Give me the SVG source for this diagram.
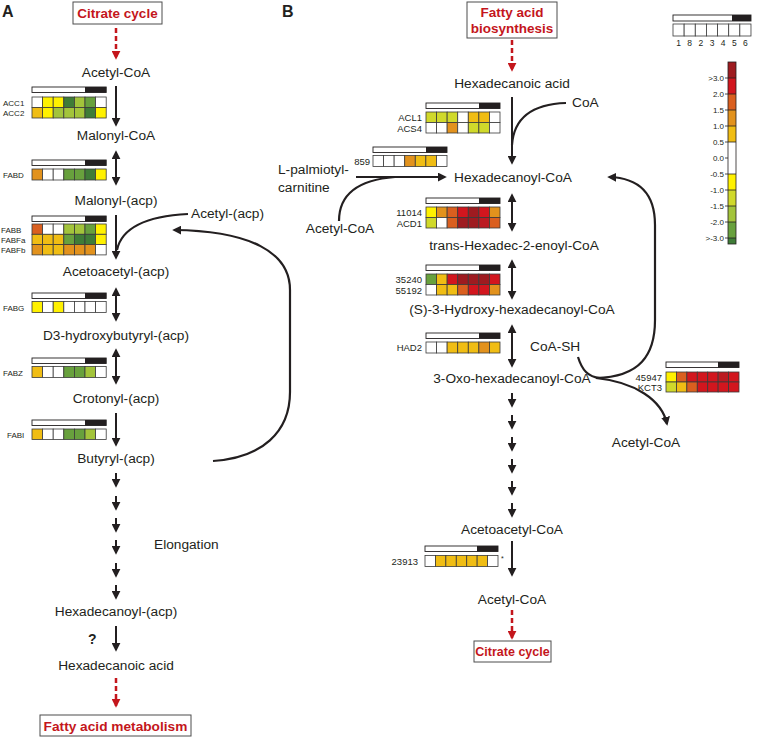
<svg xmlns="http://www.w3.org/2000/svg" width="757" height="737" viewBox="0 0 757 737">
<style>
text{font-family:"Liberation Sans",Arial,sans-serif;fill:#231f20}
.t{font-size:13.7px;text-anchor:middle}
.la{font-size:8px}
.lb{font-size:9.5px;text-anchor:end}
.pl{font-size:16px;font-weight:bold}
.red{font-size:13.5px;font-weight:bold;fill:#c4161c;text-anchor:middle}
.box{fill:#fff;stroke:#4d4d4d;stroke-width:1}
.ar{stroke:#231f20;stroke-width:2;fill:none;marker-end:url(#ah)}
.da{stroke:#231f20;stroke-width:2;fill:none;marker-start:url(#ah);marker-end:url(#ah)}
.cv{stroke:#231f20;stroke-width:2.2;fill:none}
.rd{stroke:#c4161c;stroke-width:2.5;stroke-dasharray:5 3;fill:none;marker-end:url(#rh)}
.bar{fill:#fff;stroke:#231f20;stroke-width:0.9}
.bk{fill:#231f20}
rect.c{stroke:#3a3a3a;stroke-width:0.8}
.w{fill:#fff}.dr{fill:#9e1b20}.r{fill:#d2161e}.r2{fill:#bb1a21}.or{fill:#da5f1f}.o{fill:#e2921d}.gd{fill:#f0bd14}.y{fill:#fff100}.yg{fill:#d0d92b}.lgn{fill:#a3c43b}.g{fill:#68a13d}.dg{fill:#3f7c37}
.n{font-size:8.5px;text-anchor:middle}
.s{font-size:8px;text-anchor:end}
</style>
<defs>
<marker id="ah" viewBox="0 0 10 10" refX="8" refY="5" markerWidth="9" markerHeight="9" markerUnits="userSpaceOnUse" orient="auto-start-reverse"><path d="M0,0 L10,5 L0,10 z" fill="#231f20"/></marker>
<marker id="rh" viewBox="0 0 10 10" refX="8" refY="5" markerWidth="9" markerHeight="9" markerUnits="userSpaceOnUse" orient="auto"><path d="M0,0 L10,5 L0,10 z" fill="#c4161c"/></marker>
</defs>

<!-- panel labels -->
<text class="pl" x="2" y="17">A</text>
<text class="pl" x="282" y="17">B</text>

<!-- connectors -->
<g id="connectors">
<!-- panel A -->
<path class="rd" d="M116 28 L116 58"/>
<path class="ar" d="M116 86 L116 125"/>
<path class="da" d="M116 152 L116 184"/>
<path class="ar" d="M116 215 L116 258"/>
<path class="cv" d="M188 214 C150 216 122 226 117 250"/>
<path class="da" d="M116 289 L116 320"/>
<path class="da" d="M116 350 L116 383"/>
<path class="ar" d="M116 413 L116 445"/>
<path class="cv" d="M213 461 C262 458 290 432 290 392 L290 290 C290 252 250 231 174 230" marker-end="url(#ah)"/>
<path class="ar" d="M116 473 L116 486"/>
<path class="ar" d="M116 496 L116 509"/>
<path class="ar" d="M116 518 L116 531"/>
<path class="ar" d="M116 540 L116 553"/>
<path class="ar" d="M116 563 L116 576"/>
<path class="ar" d="M116 585 L116 598"/>
<path class="ar" d="M116 626 L116 650"/>
<path class="rd" d="M116 678 L116 706"/>
<!-- panel B -->
<path class="rd" d="M512 40 L512 70"/>
<path class="ar" d="M512 97 L512 163"/>
<path class="cv" d="M566 103 C535 104 514 116 512 145"/>
<path class="ar" d="M356 177 L445 177"/>
<path class="cv" d="M339 221 C339 196 356 180 395 177"/>
<path class="da" d="M512 195 L512 230"/>
<path class="da" d="M512 261 L512 298"/>
<path class="da" d="M512 326 L512 366"/>
<path class="cv" d="M596 378 C640 377 655 355 655 320 L655 225 C655 195 640 178 609 177" marker-end="url(#ah)"/>
<path class="cv" d="M596 378 C635 382 662 400 667 424" marker-end="url(#ah)"/>
<path class="cv" d="M578 357 C582 370 588 377 600 378"/>
<path class="ar" d="M512 393 L512 406"/>
<path class="ar" d="M512 415 L512 428"/>
<path class="ar" d="M512 437 L512 450"/>
<path class="ar" d="M512 459 L512 472"/>
<path class="ar" d="M512 481 L512 494"/>
<path class="ar" d="M512 503 L512 516"/>
<path class="ar" d="M512 541 L512 575"/>
<path class="rd" d="M512 610 L512 638"/>
</g>

<!-- Panel A nodes -->
<g id="citrate-a"><rect class="box" x="73" y="2" width="89" height="22"/><text class="red" x="117.5" y="18">Citrate cycle</text></g>
<g id="acetylcoa-a"><text class="t" x="116" y="77">Acetyl-CoA</text></g>
<g id="malonylcoa"><text class="t" x="116" y="140">Malonyl-CoA</text></g>
<g id="malonylacp"><text class="t" x="116" y="205">Malonyl-(acp)</text></g>
<g id="acetylacp"><text class="t" x="191" y="218" style="text-anchor:start">Acetyl-(acp)</text></g>
<g id="acetoacetylacp"><text class="t" x="116" y="276">Acetoacetyl-(acp)</text></g>
<g id="d3hb"><text class="t" x="116" y="340">D3-hydroxybutyryl-(acp)</text></g>
<g id="crotonyl"><text class="t" x="116" y="403">Crotonyl-(acp)</text></g>
<g id="butyryl"><text class="t" x="116" y="463">Butyryl-(acp)</text></g>
<g id="elongation"><text class="t" x="154" y="549" style="text-anchor:start">Elongation</text></g>
<g id="hexacp"><text class="t" x="116" y="616">Hexadecanoyl-(acp)</text></g>
<g id="q"><text x="88" y="644" style="font-size:14px;font-weight:bold">?</text></g>
<g id="hexacid-a"><text class="t" x="116" y="670">Hexadecanoic acid</text></g>
<g id="fam"><rect class="box" x="40" y="715" width="151" height="21"/><text class="red" x="115.5" y="731" style="font-size:13.7px">Fatty acid metabolism</text></g>

<!-- Heatmaps A -->
<g id="hm-acc" transform="translate(32,87)">
<rect class="bar" x="0" y="0" width="74.2" height="5.5"/><rect class="bk" x="53" y="0" width="21.2" height="5.5"/>
<rect class="c w" x="0" y="10" width="10.6" height="10.5"/><rect class="c y" x="10.6" y="10" width="10.6" height="10.5"/><rect class="c y" x="21.2" y="10" width="10.6" height="10.5"/><rect class="c dg" x="31.8" y="10" width="10.6" height="10.5"/><rect class="c lgn" x="42.4" y="10" width="10.6" height="10.5"/><rect class="c g" x="53" y="10" width="10.6" height="10.5"/><rect class="c w" x="63.6" y="10" width="10.6" height="10.5"/>
<rect class="c gd" x="0" y="20.5" width="10.6" height="10.5"/><rect class="c y" x="10.6" y="20.5" width="10.6" height="10.5"/><rect class="c lgn" x="21.2" y="20.5" width="10.6" height="10.5"/><rect class="c lgn" x="31.8" y="20.5" width="10.6" height="10.5"/><rect class="c lgn" x="42.4" y="20.5" width="10.6" height="10.5"/><rect class="c dg" x="53" y="20.5" width="10.6" height="10.5"/><rect class="c y" x="63.6" y="20.5" width="10.6" height="10.5"/>
<text class="la" x="-29" y="18.5">ACC1</text><text class="la" x="-29" y="29">ACC2</text>
</g>
<g id="hm-fabd" transform="translate(32,160)">
<rect class="bar" x="0" y="0" width="74.2" height="5.5"/><rect class="bk" x="53" y="0" width="21.2" height="5.5"/>
<rect class="c o" x="0" y="9" width="10.6" height="11"/><rect class="c w" x="10.6" y="9" width="10.6" height="11"/><rect class="c w" x="21.2" y="9" width="10.6" height="11"/><rect class="c g" x="31.8" y="9" width="10.6" height="11"/><rect class="c g" x="42.4" y="9" width="10.6" height="11"/><rect class="c dg" x="53" y="9" width="10.6" height="11"/><rect class="c y" x="63.6" y="9" width="10.6" height="11"/>
<text class="la" x="-29" y="18">FABD</text>
</g>
<g id="hm-fabb" transform="translate(32,216)">
<rect class="bar" x="0" y="0" width="74.2" height="5.5"/><rect class="bk" x="53" y="0" width="21.2" height="5.5"/>
<rect class="c or" x="0" y="8" width="10.6" height="10.3"/><rect class="c w" x="10.6" y="8" width="10.6" height="10.3"/><rect class="c w" x="21.2" y="8" width="10.6" height="10.3"/><rect class="c lgn" x="31.8" y="8" width="10.6" height="10.3"/><rect class="c lgn" x="42.4" y="8" width="10.6" height="10.3"/><rect class="c g" x="53" y="8" width="10.6" height="10.3"/><rect class="c y" x="63.6" y="8" width="10.6" height="10.3"/>
<rect class="c gd" x="0" y="18.3" width="10.6" height="10.3"/><rect class="c gd" x="10.6" y="18.3" width="10.6" height="10.3"/><rect class="c gd" x="21.2" y="18.3" width="10.6" height="10.3"/><rect class="c g" x="31.8" y="18.3" width="10.6" height="10.3"/><rect class="c dg" x="42.4" y="18.3" width="10.6" height="10.3"/><rect class="c dg" x="53" y="18.3" width="10.6" height="10.3"/><rect class="c y" x="63.6" y="18.3" width="10.6" height="10.3"/>
<rect class="c o" x="0" y="28.6" width="10.6" height="10.3"/><rect class="c gd" x="10.6" y="28.6" width="10.6" height="10.3"/><rect class="c gd" x="21.2" y="28.6" width="10.6" height="10.3"/><rect class="c o" x="31.8" y="28.6" width="10.6" height="10.3"/><rect class="c o" x="42.4" y="28.6" width="10.6" height="10.3"/><rect class="c o" x="53" y="28.6" width="10.6" height="10.3"/><rect class="c w" x="63.6" y="28.6" width="10.6" height="10.3"/>
<text class="la" x="-31" y="16.5">FABB</text><text class="la" x="-31" y="27">FABFa</text><text class="la" x="-31" y="37">FABFb</text>
</g>
<g id="hm-fabg" transform="translate(32,293)">
<rect class="bar" x="0" y="0" width="74.2" height="5.5"/><rect class="bk" x="53" y="0" width="21.2" height="5.5"/>
<rect class="c y" x="0" y="8.5" width="10.6" height="11"/><rect class="c w" x="10.6" y="8.5" width="10.6" height="11"/><rect class="c y" x="21.2" y="8.5" width="10.6" height="11"/><rect class="c w" x="31.8" y="8.5" width="10.6" height="11"/><rect class="c w" x="42.4" y="8.5" width="10.6" height="11"/><rect class="c w" x="53" y="8.5" width="10.6" height="11"/><rect class="c w" x="63.6" y="8.5" width="10.6" height="11"/>
<text class="la" x="-29" y="17.5">FABG</text>
</g>
<g id="hm-fabz" transform="translate(32,358)">
<rect class="bar" x="0" y="0" width="74.2" height="5.5"/><rect class="bk" x="53" y="0" width="21.2" height="5.5"/>
<rect class="c gd" x="0" y="8.5" width="10.6" height="11"/><rect class="c w" x="10.6" y="8.5" width="10.6" height="11"/><rect class="c w" x="21.2" y="8.5" width="10.6" height="11"/><rect class="c g" x="31.8" y="8.5" width="10.6" height="11"/><rect class="c g" x="42.4" y="8.5" width="10.6" height="11"/><rect class="c lgn" x="53" y="8.5" width="10.6" height="11"/><rect class="c w" x="63.6" y="8.5" width="10.6" height="11"/>
<text class="la" x="-29" y="17.5">FABZ</text>
</g>
<g id="hm-fabi" transform="translate(32,420)">
<rect class="bar" x="0" y="0" width="74.2" height="5.5"/><rect class="bk" x="53" y="0" width="21.2" height="5.5"/>
<rect class="c gd" x="0" y="9" width="10.6" height="10.5"/><rect class="c w" x="10.6" y="9" width="10.6" height="10.5"/><rect class="c w" x="21.2" y="9" width="10.6" height="10.5"/><rect class="c g" x="31.8" y="9" width="10.6" height="10.5"/><rect class="c g" x="42.4" y="9" width="10.6" height="10.5"/><rect class="c lgn" x="53" y="9" width="10.6" height="10.5"/><rect class="c w" x="63.6" y="9" width="10.6" height="10.5"/>
<text class="la" x="-25" y="17.5">FABI</text>
</g>

<!-- Panel B nodes -->
<g id="fab"><rect class="box" x="467" y="2" width="90" height="36"/><text class="red" x="512" y="17">Fatty acid</text><text class="red" x="512" y="33">biosynthesis</text></g>
<g id="hexacid-b"><text class="t" x="512" y="88">Hexadecanoic acid</text></g>
<g id="coa"><text class="t" x="572" y="107" style="text-anchor:start">CoA</text></g>
<g id="palm"><text class="t" x="278" y="174" style="text-anchor:start">L-palmiotyl-</text><text class="t" x="278" y="192" style="text-anchor:start">carnitine</text></g>
<g id="acetylcoa-l"><text class="t" x="340" y="233">Acetyl-CoA</text></g>
<g id="hexcoa"><text class="t" x="454" y="182" style="text-anchor:start">Hexadecanoyl-CoA</text></g>
<g id="trans"><text class="t" x="514" y="250">trans-Hexadec-2-enoyl-CoA</text></g>
<g id="s3h"><text class="t" x="512" y="314">(S)-3-Hydroxy-hexadecanoyl-CoA</text></g>
<g id="coash"><text class="t" x="530" y="351" style="text-anchor:start">CoA-SH</text></g>
<g id="oxo"><text class="t" x="512" y="383">3-Oxo-hexadecanoyl-CoA</text></g>
<g id="acetylcoa-r"><text class="t" x="646" y="447">Acetyl-CoA</text></g>
<g id="acacoa"><text class="t" x="512" y="534">Acetoacetyl-CoA</text></g>
<g id="acetylcoa-b"><text class="t" x="512" y="604">Acetyl-CoA</text></g>
<g id="citrate-b"><rect class="box" x="474" y="641" width="77" height="21"/><text class="red" x="512.5" y="656" style="font-size:12.5px">Citrate cycle</text></g>

<!-- Heatmaps B -->
<g id="hm-acl" transform="translate(426,103)">
<rect class="bar" x="0" y="0" width="74" height="5.5"/><rect class="bk" x="53" y="0" width="21" height="5.5"/>
<rect class="c yg" x="0" y="9" width="10.57" height="10.5"/><rect class="c yg" x="10.57" y="9" width="10.57" height="10.5"/><rect class="c yg" x="21.14" y="9" width="10.57" height="10.5"/><rect class="c w" x="31.71" y="9" width="10.57" height="10.5"/><rect class="c gd" x="42.29" y="9" width="10.57" height="10.5"/><rect class="c gd" x="52.86" y="9" width="10.57" height="10.5"/><rect class="c w" x="63.43" y="9" width="10.57" height="10.5"/>
<rect class="c w" x="0" y="19.5" width="10.57" height="10.5"/><rect class="c w" x="10.57" y="19.5" width="10.57" height="10.5"/><rect class="c o" x="21.14" y="19.5" width="10.57" height="10.5"/><rect class="c w" x="31.71" y="19.5" width="10.57" height="10.5"/><rect class="c yg" x="42.29" y="19.5" width="10.57" height="10.5"/><rect class="c yg" x="52.86" y="19.5" width="10.57" height="10.5"/><rect class="c w" x="63.43" y="19.5" width="10.57" height="10.5"/>
<text class="lb" x="-4" y="18">ACL1</text><text class="lb" x="-4" y="28.5">ACS4</text>
</g>
<g id="hm-859" transform="translate(373,147)">
<rect class="bar" x="0" y="0" width="74" height="5.5"/><rect class="bk" x="53" y="0" width="21" height="5.5"/>
<rect class="c w" x="0" y="8.5" width="10.57" height="11"/><rect class="c w" x="10.57" y="8.5" width="10.57" height="11"/><rect class="c w" x="21.14" y="8.5" width="10.57" height="11"/><rect class="c o" x="31.71" y="8.5" width="10.57" height="11"/><rect class="c gd" x="42.29" y="8.5" width="10.57" height="11"/><rect class="c gd" x="52.86" y="8.5" width="10.57" height="11"/><rect class="c w" x="63.43" y="8.5" width="10.57" height="11"/>
<text class="lb" x="-3" y="17.5">859</text>
</g>
<g id="hm-acd" transform="translate(426,198)">
<rect class="bar" x="0" y="0" width="74" height="5.5"/><rect class="bk" x="53" y="0" width="21" height="5.5"/>
<rect class="c y" x="0" y="9" width="10.57" height="10.5"/><rect class="c o" x="10.57" y="9" width="10.57" height="10.5"/><rect class="c or" x="21.14" y="9" width="10.57" height="10.5"/><rect class="c r" x="31.71" y="9" width="10.57" height="10.5"/><rect class="c dr" x="42.29" y="9" width="10.57" height="10.5"/><rect class="c r" x="52.86" y="9" width="10.57" height="10.5"/><rect class="c o" x="63.43" y="9" width="10.57" height="10.5"/>
<rect class="c yg" x="0" y="19.5" width="10.57" height="10.5"/><rect class="c w" x="10.57" y="19.5" width="10.57" height="10.5"/><rect class="c or" x="21.14" y="19.5" width="10.57" height="10.5"/><rect class="c dr" x="31.71" y="19.5" width="10.57" height="10.5"/><rect class="c dr" x="42.29" y="19.5" width="10.57" height="10.5"/><rect class="c r2" x="52.86" y="19.5" width="10.57" height="10.5"/><rect class="c or" x="63.43" y="19.5" width="10.57" height="10.5"/>
<text class="lb" x="-4" y="18">11014</text><text class="lb" x="-4" y="28.5">ACD1</text>
</g>
<g id="hm-35240" transform="translate(426,265)">
<rect class="bar" x="0" y="0" width="74" height="5.5"/><rect class="bk" x="53" y="0" width="21" height="5.5"/>
<rect class="c g" x="0" y="9" width="10.57" height="10.5"/><rect class="c gd" x="10.57" y="9" width="10.57" height="10.5"/><rect class="c r" x="21.14" y="9" width="10.57" height="10.5"/><rect class="c dr" x="31.71" y="9" width="10.57" height="10.5"/><rect class="c dr" x="42.29" y="9" width="10.57" height="10.5"/><rect class="c dr" x="52.86" y="9" width="10.57" height="10.5"/><rect class="c r" x="63.43" y="9" width="10.57" height="10.5"/>
<rect class="c w" x="0" y="19.5" width="10.57" height="10.5"/><rect class="c gd" x="10.57" y="19.5" width="10.57" height="10.5"/><rect class="c gd" x="21.14" y="19.5" width="10.57" height="10.5"/><rect class="c or" x="31.71" y="19.5" width="10.57" height="10.5"/><rect class="c r" x="42.29" y="19.5" width="10.57" height="10.5"/><rect class="c r" x="52.86" y="19.5" width="10.57" height="10.5"/><rect class="c o" x="63.43" y="19.5" width="10.57" height="10.5"/>
<text class="lb" x="-4" y="18">35240</text><text class="lb" x="-4" y="28.5">55192</text>
</g>
<g id="hm-had2" transform="translate(426,333)">
<rect class="bar" x="0" y="0" width="74" height="5.5"/><rect class="bk" x="53" y="0" width="21" height="5.5"/>
<rect class="c w" x="0" y="9" width="10.57" height="11"/><rect class="c w" x="10.57" y="9" width="10.57" height="11"/><rect class="c gd" x="21.14" y="9" width="10.57" height="11"/><rect class="c gd" x="31.71" y="9" width="10.57" height="11"/><rect class="c gd" x="42.29" y="9" width="10.57" height="11"/><rect class="c o" x="52.86" y="9" width="10.57" height="11"/><rect class="c gd" x="63.43" y="9" width="10.57" height="11"/>
<text class="lb" x="-4" y="18">HAD2</text>
</g>
<g id="hm-kct" transform="translate(666,362)">
<rect class="bar" x="0" y="0" width="73" height="5.5"/><rect class="bk" x="52" y="0" width="21" height="5.5"/>
<rect class="c y" x="0" y="10" width="10.43" height="10"/><rect class="c or" x="10.43" y="10" width="10.43" height="10"/><rect class="c r" x="20.86" y="10" width="10.43" height="10"/><rect class="c r" x="31.29" y="10" width="10.43" height="10"/><rect class="c r" x="41.71" y="10" width="10.43" height="10"/><rect class="c r2" x="52.14" y="10" width="10.43" height="10"/><rect class="c r" x="62.57" y="10" width="10.43" height="10"/>
<rect class="c yg" x="0" y="20" width="10.43" height="10"/><rect class="c gd" x="10.43" y="20" width="10.43" height="10"/><rect class="c or" x="20.86" y="20" width="10.43" height="10"/><rect class="c r" x="31.29" y="20" width="10.43" height="10"/><rect class="c r" x="41.71" y="20" width="10.43" height="10"/><rect class="c r" x="52.14" y="20" width="10.43" height="10"/><rect class="c r" x="62.57" y="20" width="10.43" height="10"/>
<text class="lb" x="-4" y="18.5">45947</text><text class="lb" x="-4" y="28.5">KCT3</text>
</g>
<g id="hm-23913" transform="translate(425,546)">
<rect class="bar" x="0" y="0" width="73" height="5.5"/><rect class="bk" x="52" y="0" width="21" height="5.5"/>
<rect class="c w" x="0" y="9.5" width="10.43" height="11"/><rect class="c gd" x="10.43" y="9.5" width="10.43" height="11"/><rect class="c gd" x="20.86" y="9.5" width="10.43" height="11"/><rect class="c gd" x="31.29" y="9.5" width="10.43" height="11"/><rect class="c gd" x="41.71" y="9.5" width="10.43" height="11"/><rect class="c gd" x="52.14" y="9.5" width="10.43" height="11"/><rect class="c w" x="62.57" y="9.5" width="10.43" height="11"/>
<text class="lb" x="-7" y="18.5">23913</text>
<text x="76" y="15" style="font-size:7px">*</text>
</g>

<!-- Legend -->
<g id="legend-columns">
<rect class="bar" x="673" y="15" width="78" height="6"/><rect class="bk" x="732" y="15" width="19" height="6"/>
<rect class="c w" x="673" y="24" width="11.14" height="12"/><rect class="c w" x="684.14" y="24" width="11.14" height="12"/><rect class="c w" x="695.28" y="24" width="11.14" height="12"/><rect class="c w" x="706.42" y="24" width="11.14" height="12"/><rect class="c w" x="717.56" y="24" width="11.14" height="12"/><rect class="c w" x="728.7" y="24" width="11.14" height="12"/><rect class="c w" x="739.84" y="24" width="11.14" height="12"/>
<text class="n" x="678.6" y="46">1</text><text class="n" x="689.7" y="46">8</text><text class="n" x="700.9" y="46">2</text><text class="n" x="712" y="46">3</text><text class="n" x="723.1" y="46">4</text><text class="n" x="734.3" y="46">5</text><text class="n" x="745.4" y="46">6</text>
</g>
<g id="legend-scale">
<rect class="dr" x="728" y="62" width="8" height="16"/>
<rect class="r" x="728" y="78" width="8" height="16"/>
<rect class="or" x="728" y="94" width="8" height="16"/>
<rect class="o" x="728" y="110" width="8" height="16"/>
<rect class="gd" x="728" y="126" width="8" height="16"/>
<rect class="w" x="728" y="142" width="8" height="32"/>
<rect class="y" x="728" y="174" width="8" height="16"/>
<rect class="yg" x="728" y="190" width="8" height="16"/>
<rect class="lgn" x="728" y="206" width="8" height="16"/>
<rect class="g" x="728" y="222" width="8" height="16"/>
<rect class="dg" x="728" y="238" width="8" height="6"/>
<rect x="728" y="62" width="8" height="182" fill="none" stroke="#231f20" stroke-width="0.8"/>
<path d="M725 78H736M725 94H736M725 110H736M725 126H736M725 142H736M725 158H728M725 174H736M725 190H736M725 206H736M725 222H736M725 238H736" stroke="#231f20" stroke-width="0.8"/>
<text class="s" x="724" y="80.5">&gt;3.0</text>
<text class="s" x="724" y="96.5">2.0</text>
<text class="s" x="724" y="112.5">1.5</text>
<text class="s" x="724" y="128.5">1.0</text>
<text class="s" x="724" y="144.5">0.5</text>
<text class="s" x="724" y="160.5">0.0</text>
<text class="s" x="724" y="176.5">-0.5</text>
<text class="s" x="724" y="192.5">-1.0</text>
<text class="s" x="724" y="208.5">-1.5</text>
<text class="s" x="724" y="224.5">-2.0</text>
<text class="s" x="724" y="240.5">&gt;-3.0</text>
</g>
</svg>
